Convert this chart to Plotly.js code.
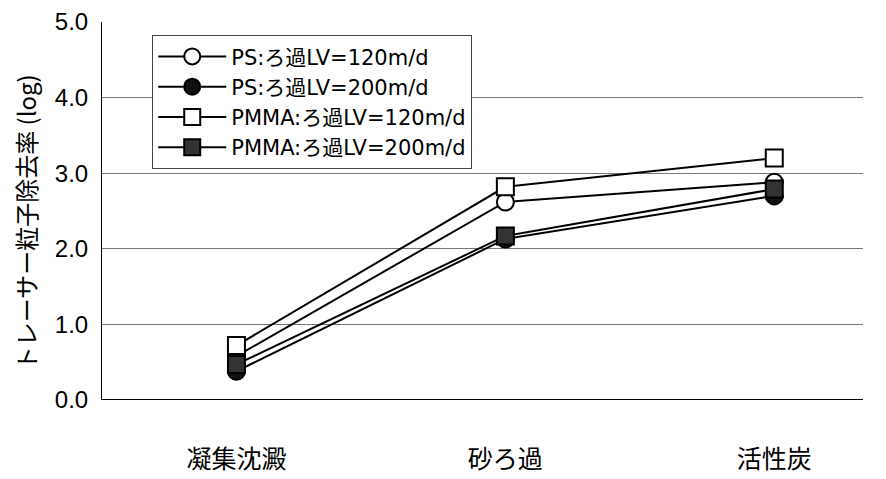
<!DOCTYPE html>
<html><head><meta charset="utf-8">
<script src="https://cdn.plot.ly/plotly-3.0.1.min.js"></script>
<style>body{margin:0;background:#fff}#c{width:886px;height:479px}</style>
</head><body><div id="c"></div>
<script>
const categories = ["凝集沈澱", "砂ろ過", "活性炭"];
const ps120 = [0.58, 2.62, 2.88];
const ps200 = [0.38, 2.13, 2.70];
const pmma120 = [0.72, 2.82, 3.20];
const pmma200 = [0.47, 2.17, 2.79];
const names = ["PS:ろ過LV=120m/d", "PS:ろ過LV=200m/d", "PMMA:ろ過LV=120m/d", "PMMA:ろ過LV=200m/d"];
const yTitle = "トレーサー粒子除去率 (log)";
const yTicks = [0, 1, 2, 3, 4, 5];
const yTickText = ["0.0", "1.0", "2.0", "3.0", "4.0", "5.0"];

const xIdx = categories.map((c, i) => i);
const font = "Liberation Sans, Arial, sans-serif";
const cjk = "'Noto Sans CJK JP', sans-serif";
function tr(y, name, sym, color) {
  return {x: xIdx, y: y, name: name, type: "scatter", mode: "lines+markers",
    line: {color: "#000", width: 2},
    marker: {symbol: sym, size: 17, color: color, line: {color: "#000", width: 2}}};
}
const data = [
  tr(ps120, names[0], "circle", "#fff"),
  tr(ps200, names[1], "circle", "#111"),
  tr(pmma120, names[2], "square", "#fff"),
  tr(pmma200, names[3], "square", "#333"),
];
const layout = {
  width: 886, height: 479,
  margin: {l: 102, r: 23, t: 22, b: 79},
  paper_bgcolor: "#fff", plot_bgcolor: "#fff",
  font: {family: font, color: "#000", size: 18},
  showlegend: true,
  legend: {x: 0.066, y: 0.965, xanchor: "left", yanchor: "top",
    bgcolor: "#fff", bordercolor: "#444", borderwidth: 1,
    font: {size: 21, family: "'DejaVu Sans', 'Noto Sans CJK JP', sans-serif"}, tracegroupgap: 0, itemwidth: 68},
  xaxis: {range: [-0.5, 2.33], tickvals: xIdx, ticktext: categories,
    showgrid: false, zeroline: false, showline: false, ticks: "",
    ticklabelstandoff: 42,
    tickfont: {size: 25, family: cjk}},
  yaxis: {range: [0, 5], tickvals: yTicks, ticktext: yTickText,
    showgrid: true, gridcolor: "#777", gridwidth: 1, zeroline: false,
    showline: true, linecolor: "#000", linewidth: 1, ticks: "",
    ticklabelstandoff: 8,
    tickfont: {size: 24, family: font}},
  annotations: [{text: yTitle, xref: "paper", yref: "paper", x: 0, y: 0.47,
    xanchor: "center", yanchor: "middle", xshift: -77, textangle: -90, showarrow: false,
    font: {size: 24, family: cjk}}],
  shapes: [{type: "line", xref: "paper", yref: "y", x0: 0, x1: 1, y0: 0, y1: 0, line: {color: "#000", width: 2}}]
};
Plotly.newPlot("c", data, layout, {displayModeBar: false, staticPlot: true});
</script></body></html>
